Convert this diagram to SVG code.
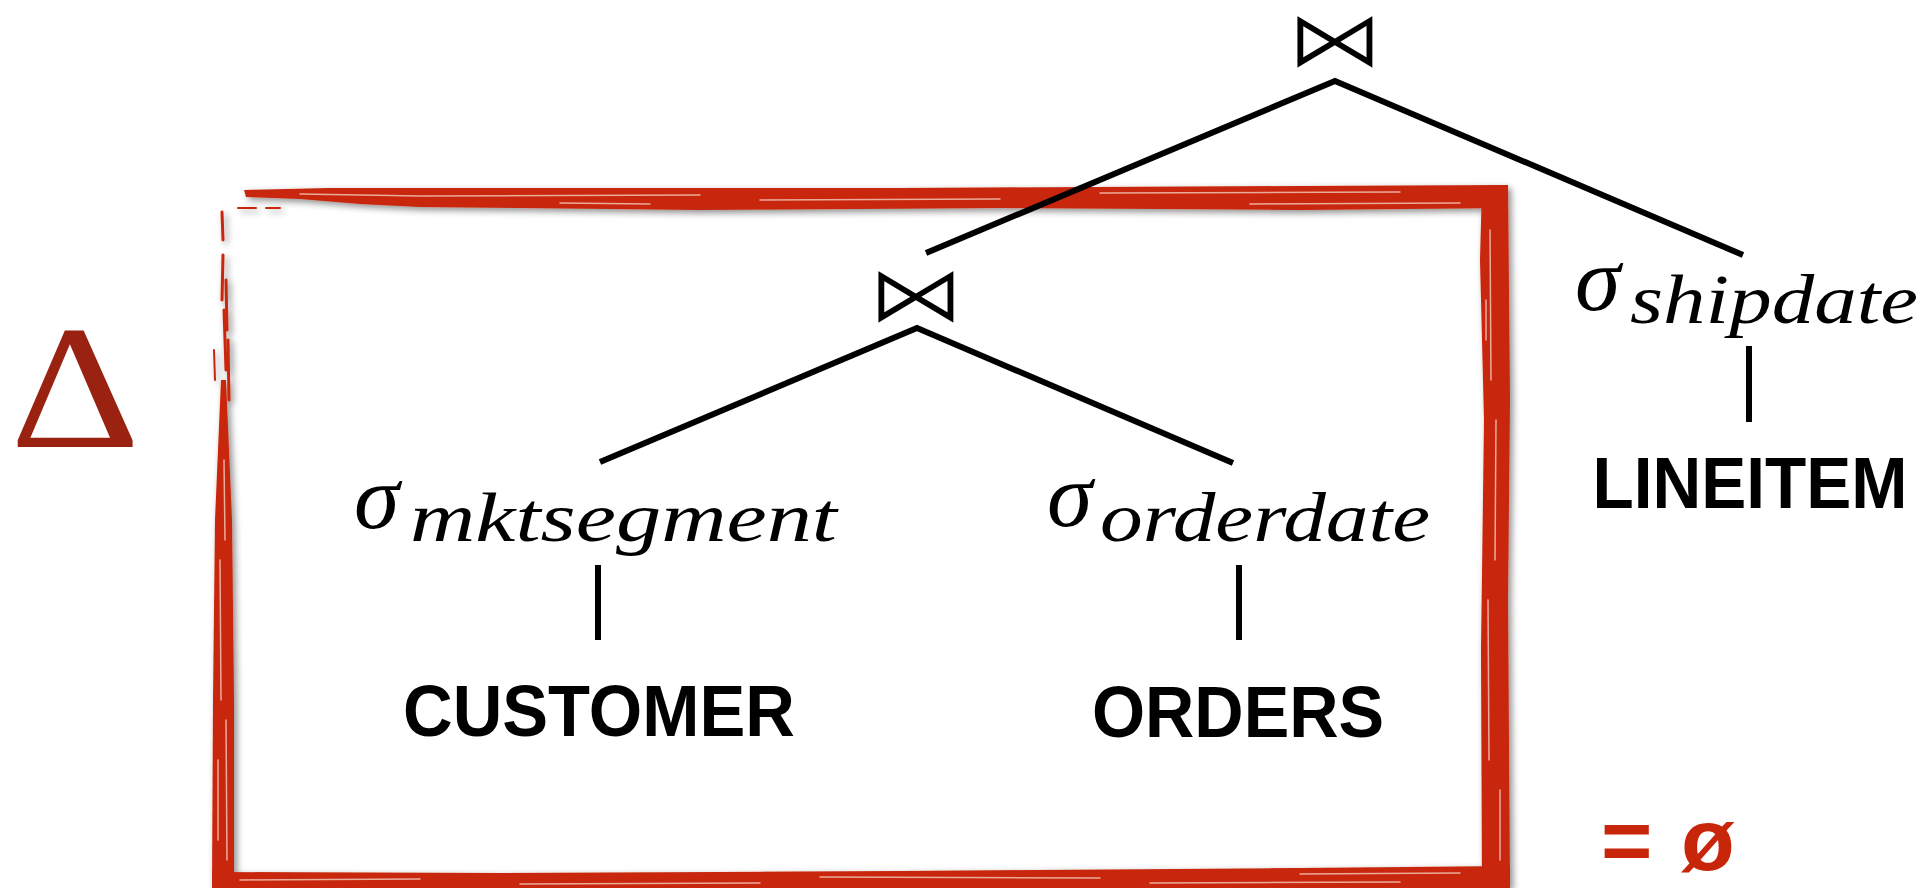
<svg xmlns="http://www.w3.org/2000/svg" width="1932" height="888" viewBox="0 0 1932 888">
  <defs>
    <filter id="shadow" x="-5%" y="-5%" width="110%" height="112%">
      <feGaussianBlur in="SourceAlpha" stdDeviation="3.5"/>
      <feOffset dx="3" dy="3"/>
      <feComponentTransfer><feFuncA type="linear" slope="0.45"/></feComponentTransfer>
      <feMerge><feMergeNode/><feMergeNode in="SourceGraphic"/></feMerge>
    </filter>
  </defs>
  <style>
    .edge{stroke:#000;stroke-width:6;fill:none}
    .join{font-family:"DejaVu Sans",sans-serif;font-size:98px;text-anchor:middle;fill:#000;stroke:#fff;stroke-width:2.2}
    .sig{font-family:"Liberation Serif",serif;font-style:italic;font-size:92px;fill:#000}
    .sub{font-family:"Liberation Serif",serif;font-style:italic;font-size:70px;fill:#000}
    .rel{font-family:"Liberation Sans",Arial,sans-serif;font-weight:bold;font-size:72px;text-anchor:middle;fill:#000}
    .brush{fill:#c8260a}
    .wisp{stroke:#c8260a;fill:none;stroke-linecap:round}
    .streak{stroke:#f1c3b5;stroke-width:1.5;fill:none;opacity:.85;stroke-linecap:round}
    .mark{font-family:"Liberation Serif",serif;font-size:176px;fill:#992211;text-anchor:middle}
    .empty{font-family:"Liberation Sans",Arial,sans-serif;font-weight:bold;font-size:88px;fill:#c8260a}
  </style>

  <rect width="1932" height="888" fill="#fff"/>

  <!-- symmetric-difference sign -->
  <text id="delta" class="mark" transform="translate(75,447) scale(1.15,1)">Δ</text>

  <!-- brush-stroke frame around the inner join -->
  <g id="frame" filter="url(#shadow)">
    <!-- top stroke: thinner at the left, solid to the right -->
    <path class="brush" d="M244,190 L330,188 L520,188 L900,188 L1300,186 L1508,185 L1508,208 L1300,210 L1000,208 L700,210 L520,208 L420,207 L360,204 L300,199 L246,197 Z"/>
    <path class="wisp" stroke-width="2" d="M238,208 L256,208 M266,208 L280,208"/>
    <!-- right stroke -->
    <path class="brush" d="M1482,186 L1508,185 L1510,400 L1508,600 L1510,888 L1482,888 L1481,650 L1484,420 L1480,260 Z"/>
    <!-- bottom stroke -->
    <path class="brush" d="M212,872 L500,873 L900,871 L1300,868 L1510,866 L1510,888 L212,888 Z"/>
    <!-- left stroke: thin streaks at the top, denser below -->
    <path class="brush" d="M221,380 L226,380 L232,520 L234,700 L234,888 L212,888 L213,700 L215,520 Z"/>
    <path class="wisp" stroke-width="3" d="M222,212 L223,240 M223,255 L222,300 M224,310 L226,370"/>
    <path class="wisp" stroke-width="3" d="M226,280 L227,330 M228,340 L229,400"/>
    <path class="wisp" stroke-width="2" d="M214,350 L215,380"/>
    <!-- light streaks through the paint -->
    <path class="streak" d="M420,196 L700,195 M760,200 L1000,199 M1100,193 L1400,192 M560,203 L650,204 M1250,204 L1460,203 M300,194 L420,196"/>
    <path class="streak" d="M1490,230 L1491,380 M1496,420 L1495,560 M1488,600 L1489,760 M1500,790 L1500,860 M1486,300 L1486,340"/>
    <path class="streak" d="M240,880 L420,879 M520,884 L760,883 M820,877 L1100,878 M1150,883 L1400,882 M1300,874 L1460,873"/>
    <path class="streak" d="M220,560 L221,700 M226,720 L227,860 M218,760 L218,840 M224,460 L225,540"/>
  </g>

  <!-- connectors of the plan tree -->
  <g id="connectors">
    <path class="edge" d="M926,253 L1335,81 L1743,255"/>
    <path class="edge" d="M600,462 L917,328 L1233,463"/>
    <line class="edge" x1="598" y1="565" x2="598" y2="640"/>
    <line class="edge" x1="1239" y1="565" x2="1239" y2="640"/>
    <line class="edge" x1="1749" y1="346" x2="1749" y2="422"/>
  </g>

  <g id="join-top">
    <text class="join" transform="translate(1335,67) scale(1,0.82)">⋈</text>
  </g>
  <g id="join-inner">
    <text class="join" transform="translate(916,322) scale(1,0.82)">⋈</text>
  </g>

  <g id="select-mktsegment">
    <text class="sig" x="354" y="528">σ</text>
    <text class="sub" x="410" y="541" textLength="427" lengthAdjust="spacingAndGlyphs">mktsegment</text>
  </g>
  <g id="select-orderdate">
    <text class="sig" x="1047" y="526">σ</text>
    <text class="sub" x="1100" y="541" textLength="330" lengthAdjust="spacingAndGlyphs">orderdate</text>
  </g>
  <g id="select-shipdate">
    <text class="sig" x="1575" y="310">σ</text>
    <text class="sub" x="1630" y="323" textLength="288" lengthAdjust="spacingAndGlyphs">shipdate</text>
  </g>

  <g id="customer">
    <text class="rel" x="599" y="736" textLength="392" lengthAdjust="spacingAndGlyphs">CUSTOMER</text>
  </g>
  <g id="orders">
    <text class="rel" x="1238" y="737" textLength="292" lengthAdjust="spacingAndGlyphs">ORDERS</text>
  </g>
  <g id="lineitem">
    <text class="rel" x="1750" y="508" textLength="315" lengthAdjust="spacingAndGlyphs">LINEITEM</text>
  </g>

  <!-- result -->
  <g id="result">
    <text class="empty" x="1601" y="870">=</text>
    <text class="empty" x="1681" y="870">ø</text>
  </g>
</svg>
